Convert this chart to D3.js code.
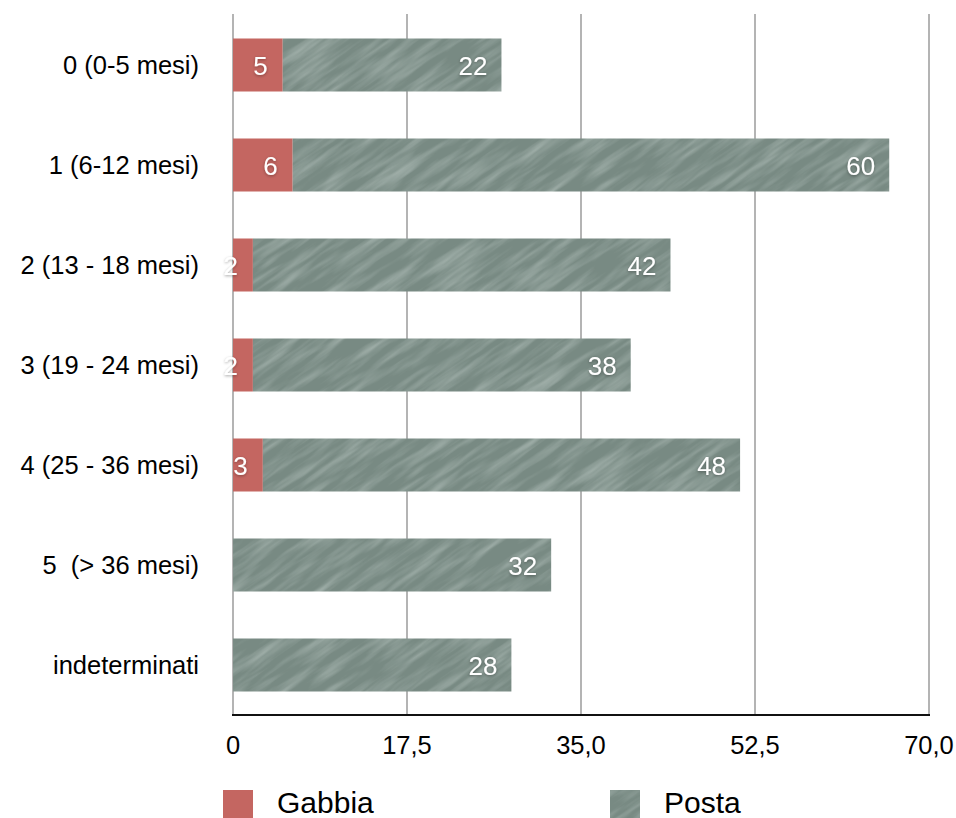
<!DOCTYPE html>
<html>
<head>
<meta charset="utf-8">
<script src="https://cdn.jsdelivr.net/npm/d3@7"></script>
<style>
  html, body { margin: 0; padding: 0; background: #fff; }
  svg { display: block; font-family: "Liberation Sans", Arial, Helvetica, sans-serif; }
</style>
</head>
<body>
<svg id="chart" width="956" height="818"></svg>
<script>
const categories = ["0 (0-5 mesi)", "1 (6-12 mesi)", "2 (13 - 18 mesi)", "3 (19 - 24 mesi)", "4 (25 - 36 mesi)", "5  (> 36 mesi)", "indeterminati"];
const gabbia = [5, 6, 2, 2, 3, 0, 0];
const posta = [22, 60, 42, 38, 48, 32, 28];
const seriesNames = ["Gabbia", "Posta"];
const tickValues = [0, 17.5, 35, 52.5, 70];
const tickLabels = ["0", "17,5", "35,0", "52,5", "70,0"];

const svg = d3.select("#chart");
const margin = { left: 233, right: 27, top: 15, bottom: 103 };
const W = 956, H = 818;

const x = d3.scaleLinear().domain([0, 70]).range([margin.left, W - margin.right]);
const y = d3.scaleBand().domain(categories).range([margin.top, H - margin.bottom])
  .paddingInner(0.47).paddingOuter(0.235);

const defs = svg.append("defs");
const T = 256;
// streaky noise filter (tileable)
const f = defs.append("filter").attr("id", "streak")
  .attr("filterUnits", "userSpaceOnUse").attr("primitiveUnits", "userSpaceOnUse")
  .attr("x", 0).attr("y", 0).attr("width", T).attr("height", T);
f.append("feTurbulence").attr("type", "fractalNoise").attr("baseFrequency", "0.0156 0.125")
  .attr("numOctaves", 3).attr("seed", 7).attr("stitchTiles", "stitch")
  .attr("x", 0).attr("y", 0).attr("width", T).attr("height", T).attr("result", "t");
f.append("feColorMatrix").attr("in", "t").attr("type", "matrix")
  .attr("values", "0 0 0 0 0.62  0 0 0 0 0.70  0 0 0 0 0.67  0.9 0 0 0 -0.36").attr("result", "n");
f.append("feComposite").attr("in", "n").attr("in2", "SourceGraphic").attr("operator", "in");

// texture pattern for Posta (diagonal streaks)
const pat = defs.append("pattern").attr("id", "postaTex")
  .attr("patternUnits", "userSpaceOnUse").attr("width", T).attr("height", T)
  .attr("patternTransform", "rotate(-35)");
pat.append("rect").attr("width", T).attr("height", T).attr("fill", "#788a83");
pat.append("rect").attr("width", T).attr("height", T).attr("fill", "#fff").attr("filter", "url(#streak)");

const shadow = defs.append("filter").attr("id", "tshadow").attr("x", "-30%").attr("y", "-30%").attr("width", "160%").attr("height", "160%");
shadow.append("feDropShadow").attr("dx", 0).attr("dy", 1).attr("stdDeviation", 1.5)
  .attr("flood-color", "#000").attr("flood-opacity", 0.35);

// gridlines
svg.append("g").selectAll("line").data(tickValues).join("line")
  .attr("x1", d => x(d)).attr("x2", d => x(d))
  .attr("y1", 14).attr("y2", H - margin.bottom)
  .attr("stroke", "#b4b4b4").attr("stroke-width", 2);

// bars
const rows = categories.map((c, i) => ({ c, g: gabbia[i], p: posta[i] }));
const bars = svg.append("g");
bars.selectAll("rect.g").data(rows.filter(d => d.g > 0)).join("rect")
  .attr("x", x(0)).attr("y", d => y(d.c))
  .attr("width", d => x(d.g) - x(0)).attr("height", y.bandwidth())
  .attr("fill", "#c46661");
bars.selectAll("rect.p").data(rows).join("rect")
  .attr("x", d => x(d.g)).attr("y", d => y(d.c))
  .attr("width", d => x(d.g + d.p) - x(d.g)).attr("height", y.bandwidth())
  .attr("fill", "url(#postaTex)");

// value labels
const lab = svg.append("g").attr("fill", "#fff").attr("font-size", 26).attr("text-anchor", "end").attr("filter", "url(#tshadow)");
rows.forEach(d => {
  const cy = y(d.c) + y.bandwidth() / 2;
  if (d.g > 0) lab.append("text").attr("x", x(d.g) - 15).attr("y", cy + 9.5).text(d.g);
  lab.append("text").attr("x", x(d.g + d.p) - 14).attr("y", cy + 9.5).text(d.p);
});

// axis line
svg.append("line").attr("x1", x(0) - 1).attr("x2", x(70) + 1)
  .attr("y1", H - margin.bottom).attr("y2", H - margin.bottom)
  .attr("stroke", "#111").attr("stroke-width", 2);

// tick labels
svg.append("g").selectAll("text").data(tickValues).join("text")
  .attr("x", d => x(d)).attr("y", 754).attr("text-anchor", "middle")
  .attr("font-size", 25.5).attr("fill", "#000")
  .text((d, i) => tickLabels[i]);

// category labels
svg.append("g").selectAll("text").data(categories).join("text")
  .attr("x", 199).attr("y", d => y(d) + y.bandwidth() / 2 + 8.5)
  .attr("text-anchor", "end").attr("font-size", 25.5).attr("fill", "#000")
  .style("white-space", "pre").attr("xml:space", "preserve")
  .text(d => d);

// legend
const legend = svg.append("g");
const legX = [223, 610];
const legFill = ["#c46661", "url(#postaTex)"];
seriesNames.forEach((n, i) => {
  legend.append("rect").attr("x", legX[i]).attr("y", 790).attr("width", 30).attr("height", 28)
    .attr("fill", legFill[i]);
  legend.append("text").attr("x", legX[i] + 54).attr("y", 813).attr("font-size", 30).attr("fill", "#000").text(n);
});
</script>
</body>
</html>
